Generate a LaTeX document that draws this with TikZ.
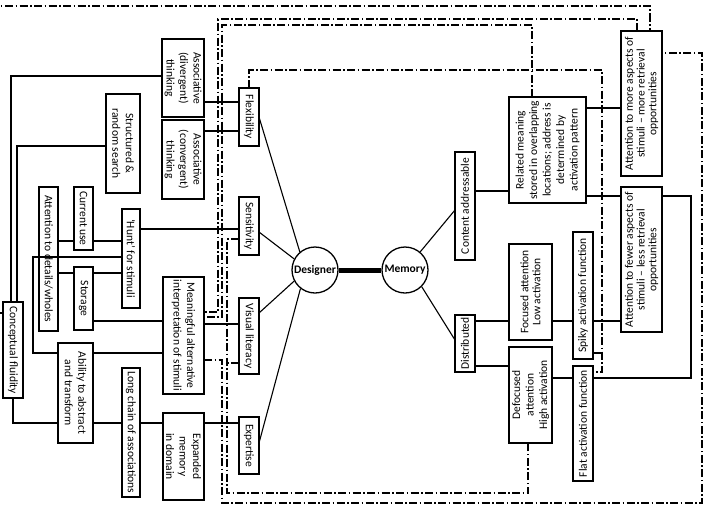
\documentclass[tikz,border=0pt]{standalone}
\usepackage{fontspec}
\setmainfont{Carlito}
\usepackage{graphicx}
\newcommand\mkbox[8]{%
  \node[#6, minimum width={(#4-#2)*1pt}, minimum height={(#5-#3)*1pt}] (#1) at ({(#2+#4)/2},{(#3+#5)/2}) {};
  \node[#7, align=center, inner sep=0pt] (#1t) at (#1.center) {#8};}
\begin{document}
\begin{tikzpicture}[x=1pt,y=-1pt,
  font=\fontsize{11.5}{13.5}\selectfont,
  bx/.style={draw, line width=1.4pt, inner sep=0pt, outer sep=0pt},
  bxt/.style={bx, line width=2.2pt},
  tl/.style={rotate=-90},
  tr/.style={rotate=90},
  ln/.style={line width=1.1pt},
  dd/.style={line width=1.1pt, dash pattern=on 8pt off 2.5pt on 1.5pt off 2.5pt},
  circ/.style={draw, circle, line width=1.3pt, minimum size=46pt, inner sep=0pt, font=\fontsize{11.5}{13.5}\selectfont\bfseries}]
\useasboundingbox (0,0) rectangle (708,514);
% left boxes
\mkbox{aD}{162}{39}{204}{117}{bx}{tl}{Associative\\(divergent)\\thinking}
\mkbox{aC}{162}{120}{204}{199}{bx}{tl}{Associative\\(convergent)\\thinking}
\mkbox{srs}{106}{94}{140}{193}{bxt}{tl}{Structured \&\\random search}
\mkbox{cu}{74}{187}{93}{250}{bxt}{tl}{Current use}
\mkbox{adw}{39}{187}{58}{331}{bxt}{tl}{Attention to details/wholes}
\mkbox{hunt}{122}{209}{140}{308}{bxt}{tl}{‘Hunt’ for stimuli}
\mkbox{sto}{74}{267}{93}{330}{bxt}{tl}{Storage}
\mkbox{cf}{3}{302}{23}{398}{bxt}{tl}{Conceptual fluidity}
\mkbox{mai}{163}{277}{204}{394}{bx}{tl}{Meaningful alternative\\interpretation of stimuli}
\mkbox{aat}{58}{343}{93}{443}{bxt}{tl}{Ability to abstract\\and transform}
\mkbox{lca}{122}{368}{140}{497}{bxt}{tl}{Long chain of associations}
\mkbox{emd}{163}{413}{204}{500}{bx}{tl}{Expanded\\memory\\in domain}
\mkbox{flex}{239}{88}{259}{146}{bx}{tl}{Flexibility}
\mkbox{sens}{239}{197}{259}{255}{bx}{tl}{Sensitivity}
\mkbox{vl}{239}{298}{259}{374}{bx}{tl}{Visual literacy}
\mkbox{exp}{239}{417}{259}{474}{bx}{tl}{Expertise}
% right boxes
\mkbox{ca}{455}{152}{475}{260}{bxt}{tr}{Content addressable}
\mkbox{dist}{455}{315}{475}{372}{bxt}{tr}{Distributed}
\mkbox{rm}{509}{97}{586}{203}{bx}{tr}{Related meaning\\stored in overlapping\\locations; address is\\determined by\\activation pattern}
\mkbox{fa}{509}{244}{552}{340}{bx}{tr,font=\fontsize{11.5}{12}\selectfont}{Focused attention\\Low activation}
\mkbox{da}{509}{347}{552}{443}{bx}{tr}{Defocused\\attention\\High activation}
\mkbox{spiky}{573}{232}{593}{359}{bx}{tr}{Spiky activation function}
\mkbox{flat}{573}{366}{593}{481}{bxt}{tr}{Flat activation function}
\mkbox{am}{621}{31}{662}{176}{bxt}{tr,font=\fontsize{11.5}{11.7}\selectfont}{Attention to more aspects of\\stimuli – more retrieval\\opportunities}
\mkbox{af}{621}{187}{662}{332}{bx}{tr,font=\fontsize{11.5}{11.7}\selectfont}{Attention to fewer aspects of\\stimuli – less retrieval\\opportunities}
% circles
\node[circ] (des) at (315,270) {Designer};
\node[circ] (mem) at (405,270) {Memory};
\draw[line width=5pt] (des.east) -- (mem.west);
% left connectors
\draw[ln] (aD.west |- 0,76) -| (cf.north -| 11,0);
\draw[ln] (srs.west |- 0,146) -| (cf.north -| 17,0);
\draw[ln] (aD.east |- 0,102) -- (flex.west |- 0,102);
\draw[ln] (aC.east |- 0,131) -- (flex.west |- 0,131);
\draw[ln] (hunt.east |- 0,229) -- (sens.west |- 0,229);
\draw[ln] (adw.east |- 0,241) -- (cu.west |- 0,241);
\draw[ln] (cu.east |- 0,241) -- (hunt.west |- 0,241);
\draw[ln] (hunt.west |- 0,257) -- (33,257) -- (33,353) -- (aat.west |- 0,353);
\draw[ln] (adw.east |- 0,273) -- (sto.west |- 0,273);
\draw[ln] (sto.east |- 0,273) -- (hunt.west |- 0,273);
\draw[ln] (sto.east |- 0,321) -- (mai.west |- 0,321);
\draw[ln] (aat.east |- 0,353) -- (mai.west |- 0,353);
\draw[ln] (mai.east |- 0,324) -- (vl.west |- 0,324);
\draw[ln] (cf.south) |- (aat.west |- 0,423);
\draw[ln] (aat.east |- 0,423) -- (lca.west |- 0,423);
\draw[ln] (lca.east |- 0,423) -- (emd.west |- 0,423);
\draw[ln] (emd.east |- 0,423) -- (exp.west |- 0,423);
% designer / memory
\draw[ln] (flex.east |- 0,117) -- (des.130);
\draw[ln] (sens.east |- 0,232) -- (des.152);
\draw[ln] (vl.east |- 0,313) -- (des.208);
\draw[ln] (exp.east |- 0,443) -- (des.232);
\draw[ln] (mem.50) -- (ca.west |- 0,210);
\draw[ln] (mem.315) -- (dist.west |- 0,340);
% right connectors
\draw[ln] (ca.east |- 0,191) -- (rm.west |- 0,191);
\draw[ln] (dist.east |- 0,321) -- (fa.west |- 0,321);
\draw[ln] (dist.east |- 0,366) -- (da.west |- 0,366);
\draw[ln] (rm.east |- 0,108) -- (am.west |- 0,108);
\draw[ln] (rm.east |- 0,196) -- (af.west |- 0,196);
\draw[ln] (af.east |- 0,196) -- (691,196) -- (691,378) -- (flat.east |- 0,378);
\draw[ln] (da.east |- 0,378) -- (flat.west |- 0,378);
\draw[ln] (fa.east |- 0,321) -- (spiky.west |- 0,321);
\draw[ln] (spiky.east |- 0,321) -- (af.west |- 0,321);
% dash-dot frames
\draw[dd] (cf.west |- 0,313) -- (-2,313) -- (-2,6) -- (650,6) -- (am.north -| 650,0);
\draw[dd] (am.north -| 637,0) -- (637,19) -- (218,19) -- (218,312) -- (mai.east |- 0,312);
\draw[dd] (rm.north -| 532,0) -- (532,25) -- (222,25) -- (222,317) -- (mai.east |- 0,317);
\draw[dd] (flex.north) -- (249,70) -- (602,70) -- (602,372) -- (flat.east |- 0,372);
\draw[dd] (602,353) -- (spiky.east |- 0,353);
\draw[dd] (sens.west |- 0,239) -- (227,239) -- (227,493) -- (528,493) -- (da.south -| 528,0);
\draw[dd] (vl.west |- 0,363) -- (227,363);
\draw[dd] (mai.east |- 0,360) -- (222,360) -- (222,503) -- (702,503) -- (702,53) -- (am.east |- 0,53);
\end{tikzpicture}
\end{document}
